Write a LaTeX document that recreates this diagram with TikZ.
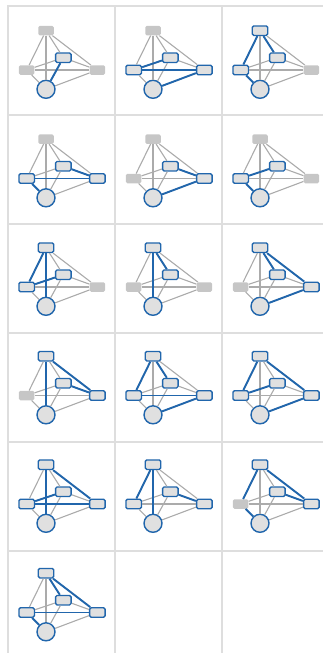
\documentclass[tikz,border=0pt]{standalone}
\definecolor{gridgray}{HTML}{DEDEDE}
\definecolor{linkgray}{HTML}{ABABAB}
\definecolor{idlegray}{HTML}{C6C6C6}
\definecolor{nodefill}{HTML}{E0E0E0}
\definecolor{hotblue}{HTML}{2166AC}

\begin{document}
\begin{tikzpicture}[x=1pt,y=-1pt,
  box/.style={rectangle,rounded corners=1.5,minimum width=15.5,minimum height=9.5,inner sep=0},
  dot/.style={circle,minimum size=18,inner sep=0},
  act/.style={fill=nodefill,draw=hotblue,line width=1.4},
  idle/.style={fill=idlegray},
  link/.style={linkgray,line width=1.1},
  hot/.style={hotblue,line width=1.9}]
  \useasboundingbox (0,0) rectangle (323,653);
  % panel grid
  \foreach \gx in {8,115,222} \draw[gridgray,line width=2] (\gx,6) -- (\gx,653);
  \foreach \gy in {0,...,5} \draw[gridgray,line width=2] (7,6+\gy*109) -- (323,6+\gy*109);
  % one small graph per panel: col/row/top/mid/left/right/bottom/highlighted edges
  \foreach \i/\j/\st/\sm/\sl/\sr/\sc/\hotlist in {
      0/0/idle/act/idle/idle/act/{m/c},
      1/0/idle/act/act/act/act/{l/m,l/r,r/c},
      2/0/act/act/act/idle/act/{t/l,t/m,l/c},
      0/1/idle/act/act/act/act/{l/r,m/r,l/c},
      1/1/idle/act/idle/act/act/{m/r,r/c},
      2/1/idle/act/act/idle/act/{l/m,l/c},
      0/2/act/act/act/idle/act/{t/l,t/c,l/m},
      1/2/act/act/idle/idle/act/{t/c,t/m},
      2/2/act/act/idle/act/act/{t/m,t/r,r/c},
      0/3/act/act/idle/act/act/{t/r,t/c,m/r},
      1/3/act/act/act/act/act/{t/l,t/m,l/r,r/c},
      2/3/act/act/act/act/act/{t/l,t/r,l/m,r/c},
      0/4/act/act/act/act/act/{t/r,t/c,l/m,l/r},
      1/4/act/act/act/act/act/{t/l,t/c,m/r},
      2/4/act/act/idle/act/act/{t/l,t/r,m/r,l/c},
      0/5/act/act/act/act/act/{t/m,t/r,l/r,l/c}}{
    \begin{scope}[shift={(\i*107,\j*108.5)}]
      \node[box,\st] (t) at (46,30.7) {};
      \node[box,\sm] (m) at (63.3,57.7) {};
      \node[box,\sl] (l) at (26.7,70) {};
      \node[box,\sr] (r) at (97.3,70) {};
      \node[dot,\sc] (c) at (46,89.3) {};
      \foreach \a/\b in {t/l,t/m,t/r,t/c,l/m,l/r,l/c,m/r,m/c,r/c}
        \draw[link] (\a) -- (\b);
      \foreach \a/\b in \hotlist
        \draw[hot] (\a) -- (\b);
    \end{scope}
  }
\end{tikzpicture}
\end{document}
